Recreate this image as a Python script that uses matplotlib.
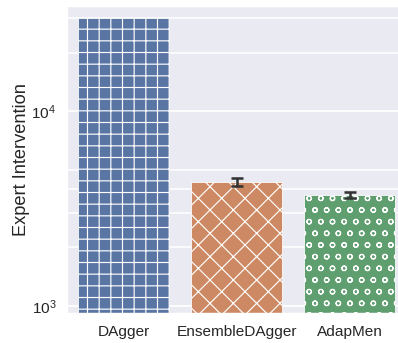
import matplotlib
matplotlib.use("Agg")
import matplotlib.pyplot as plt
from matplotlib.ticker import LogLocator
import seaborn as sns

methods = ["DAgger", "EnsembleDAgger", "AdapMen"]
interventions = [30000, 4320, 3730]
errors = [0, 210, 135]
hatches = ["++", "xx", "oo"]

sns.set_theme(style="darkgrid")
plt.rcParams["font.family"] = ["Liberation Sans", "DejaVu Sans"]
plt.rcParams["hatch.color"] = "white"
plt.rcParams["hatch.linewidth"] = 0.6

colors = sns.color_palette("deep", 3, desat=0.75)

DPI = 140
fig = plt.figure(figsize=(398 / DPI, 343 / DPI), dpi=DPI)
# axes run a little past the right edge of the canvas
ax = fig.add_axes([67 / 398, 29 / 343, 339 / 398, 308 / 343])

x = list(range(len(methods)))
bars = ax.bar(x, interventions, width=0.8, color=colors, edgecolor="white", linewidth=0.4)
for bar, h in zip(bars, hatches):
    bar.set_hatch(h)

# error bars only where there is a spread
ex = [i for i, e in zip(x, errors) if e > 0]
ey = [interventions[i] for i in ex]
ee = [errors[i] for i in ex]
ax.errorbar(ex, ey, yerr=ee, fmt="none", ecolor="#333333",
            elinewidth=1.3, capsize=3, capthick=1.3, zorder=5)

ax.set_yscale("log")
ax.yaxis.set_minor_locator(LogLocator(base=10, subs=[2, 3, 4, 5]))
ax.set_ylim(910, 34700)
ax.set_xlim(-0.5, 2.5)
ax.set_xticks(x)
ax.set_xticklabels(methods)
ax.grid(False, axis="x")
ax.grid(True, which="major", axis="y", color="white", linewidth=0.9)
ax.grid(True, which="minor", axis="y", color="white", linewidth=0.8)
ax.set_axisbelow(True)
ax.tick_params(axis="both", which="both", length=0, labelsize=7.9)
ax.tick_params(axis="y", pad=5.5)
ax.tick_params(axis="x", pad=5.5)
ax.set_ylabel("Expert Intervention", fontsize=9.4, labelpad=0.5)

fig.savefig("out.png", dpi=DPI)
